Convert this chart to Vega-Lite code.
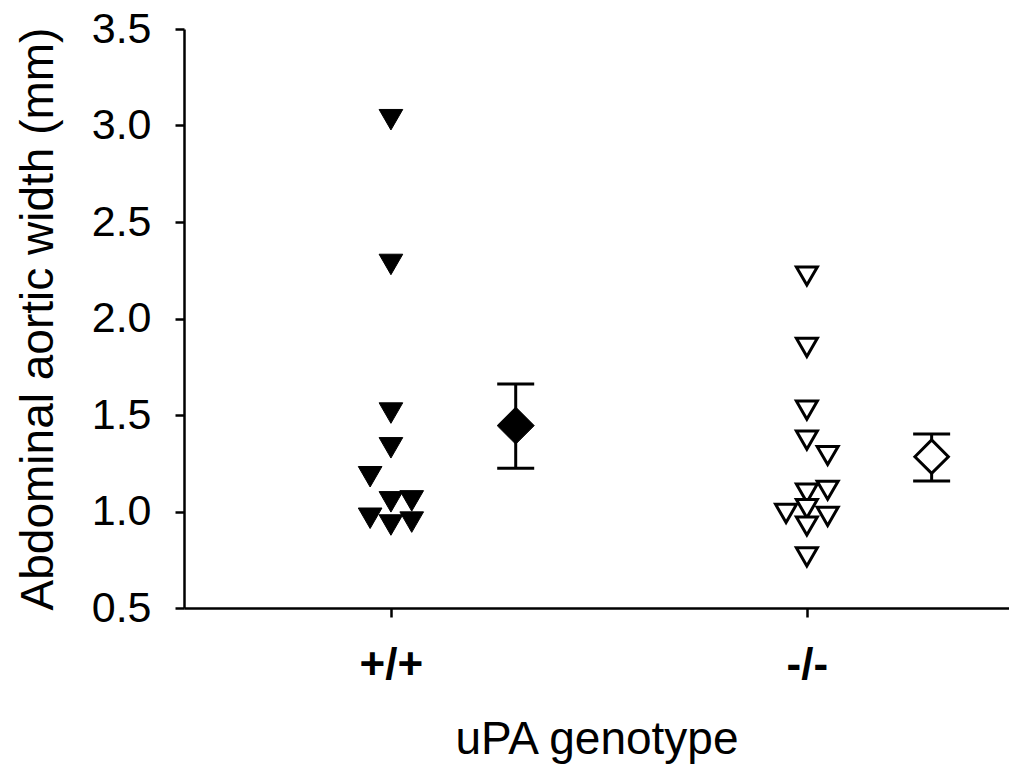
{
  "$schema": "https://vega.github.io/schema/vega-lite/v6.json",
  "width": 825,
  "height": 579,
  "autosize": {"type": "none"},
  "padding": {"left": 184, "top": 29, "right": 0, "bottom": 161},
  "background": "white",
  "config": {
    "view": {"stroke": null},
    "font": "Liberation Sans",
    "axis": {
      "grid": false,
      "domainColor": "black",
      "domainWidth": 2.5,
      "tickColor": "black",
      "tickWidth": 2.5,
      "tickSize": 9,
      "labelColor": "black",
      "titleColor": "black",
      "labelFont": "Liberation Sans",
      "titleFont": "Liberation Sans",
      "labelFontSize": 43,
      "titleFontSize": 46,
      "titleFontWeight": "normal",
      "titleLimit": 2000,
      "labelLimit": 500
    }
  },
  "datasets": {
    "points": [
      {"g": "+/+", "pos": 1.0, "w": 3.03},
      {"g": "+/+", "pos": 1.0, "w": 2.28},
      {"g": "+/+", "pos": 1.0, "w": 1.51},
      {"g": "+/+", "pos": 1.0, "w": 1.33},
      {"g": "+/+", "pos": 0.95, "w": 1.18},
      {"g": "+/+", "pos": 1.0, "w": 1.05},
      {"g": "+/+", "pos": 1.05, "w": 1.055},
      {"g": "+/+", "pos": 0.95, "w": 0.965},
      {"g": "+/+", "pos": 1.0, "w": 0.93},
      {"g": "+/+", "pos": 1.05, "w": 0.945},
      {"g": "-/-", "pos": 2.0, "w": 2.22},
      {"g": "-/-", "pos": 2.0, "w": 1.85},
      {"g": "-/-", "pos": 2.0, "w": 1.525},
      {"g": "-/-", "pos": 2.0, "w": 1.37},
      {"g": "-/-", "pos": 2.05, "w": 1.29},
      {"g": "-/-", "pos": 2.05, "w": 1.11},
      {"g": "-/-", "pos": 2.0, "w": 1.095},
      {"g": "-/-", "pos": 2.0, "w": 1.015},
      {"g": "-/-", "pos": 1.95, "w": 0.99},
      {"g": "-/-", "pos": 2.05, "w": 0.975},
      {"g": "-/-", "pos": 2.0, "w": 0.925},
      {"g": "-/-", "pos": 2.0, "w": 0.765}
    ],
    "summary": [
      {"g": "+/+", "pos": 1.3, "mean": 1.445, "lo": 1.224, "hi": 1.661},
      {"g": "-/-", "pos": 2.3, "mean": 1.284, "lo": 1.158, "hi": 1.402}
    ]
  },
  "encoding": {
    "x": {
      "field": "pos",
      "type": "quantitative",
      "scale": {"domain": [0.5025, 2.486], "nice": false, "zero": false},
      "axis": {
        "values": [1, 2],
        "labelExpr": "datum.value === 1 ? '+/+' : '-/-'",
        "labelFontWeight": "bold",
        "labelFontSize": 44,
        "labelPadding": 26,
        "titlePadding": 30,
        "title": "uPA genotype"
      }
    }
  },
  "layer": [
    {
      "data": {"name": "summary"},
      "mark": {"type": "rule", "color": "black", "strokeWidth": 3, "opacity": 1},
      "encoding": {
        "y": {"field": "lo", "type": "quantitative"},
        "y2": {"field": "hi"}
      }
    },
    {
      "data": {"name": "summary"},
      "mark": {"type": "tick", "orient": "horizontal", "color": "black", "size": 37, "thickness": 3, "opacity": 1},
      "encoding": {"y": {"field": "lo", "type": "quantitative"}}
    },
    {
      "data": {"name": "summary"},
      "mark": {"type": "tick", "orient": "horizontal", "color": "black", "size": 37, "thickness": 3, "opacity": 1},
      "encoding": {"y": {"field": "hi", "type": "quantitative"}}
    },
    {
      "data": {"name": "summary"},
      "transform": [{"filter": "datum.g === '+/+'"}],
      "mark": {"type": "point", "shape": "diamond", "filled": true, "fill": "black", "stroke": "black", "strokeWidth": 1, "size": 1370, "opacity": 1},
      "encoding": {"y": {"field": "mean", "type": "quantitative"}}
    },
    {
      "data": {"name": "summary"},
      "transform": [{"filter": "datum.g === '-/-'"}],
      "mark": {"type": "point", "shape": "diamond", "filled": true, "fill": "white", "stroke": "black", "strokeWidth": 3, "size": 1120, "opacity": 1},
      "encoding": {"y": {"field": "mean", "type": "quantitative"}}
    },
    {
      "data": {"name": "points"},
      "transform": [{"filter": "datum.g === '+/+'"}],
      "mark": {"type": "point", "shape": "triangle-down", "filled": true, "fill": "black", "stroke": "black", "strokeWidth": 1, "size": 560, "opacity": 1},
      "encoding": {"y": {"field": "w", "type": "quantitative"}}
    },
    {
      "data": {"name": "points"},
      "transform": [{"filter": "datum.g === '-/-'"}],
      "mark": {"type": "point", "shape": "triangle-down", "filled": true, "fill": "white", "stroke": "black", "strokeWidth": 3, "size": 440, "opacity": 1},
      "encoding": {
        "y": {
          "field": "w",
          "type": "quantitative",
          "scale": {"domain": [0.5, 3.5], "nice": false, "zero": false},
          "axis": {
            "values": [0.5, 1.0, 1.5, 2.0, 2.5, 3.0, 3.5],
            "format": ".1f",
            "labelPadding": 24,
            "titlePadding": 29,
            "title": "Abdominal aortic width (mm)"
          }
        }
      }
    }
  ]
}
